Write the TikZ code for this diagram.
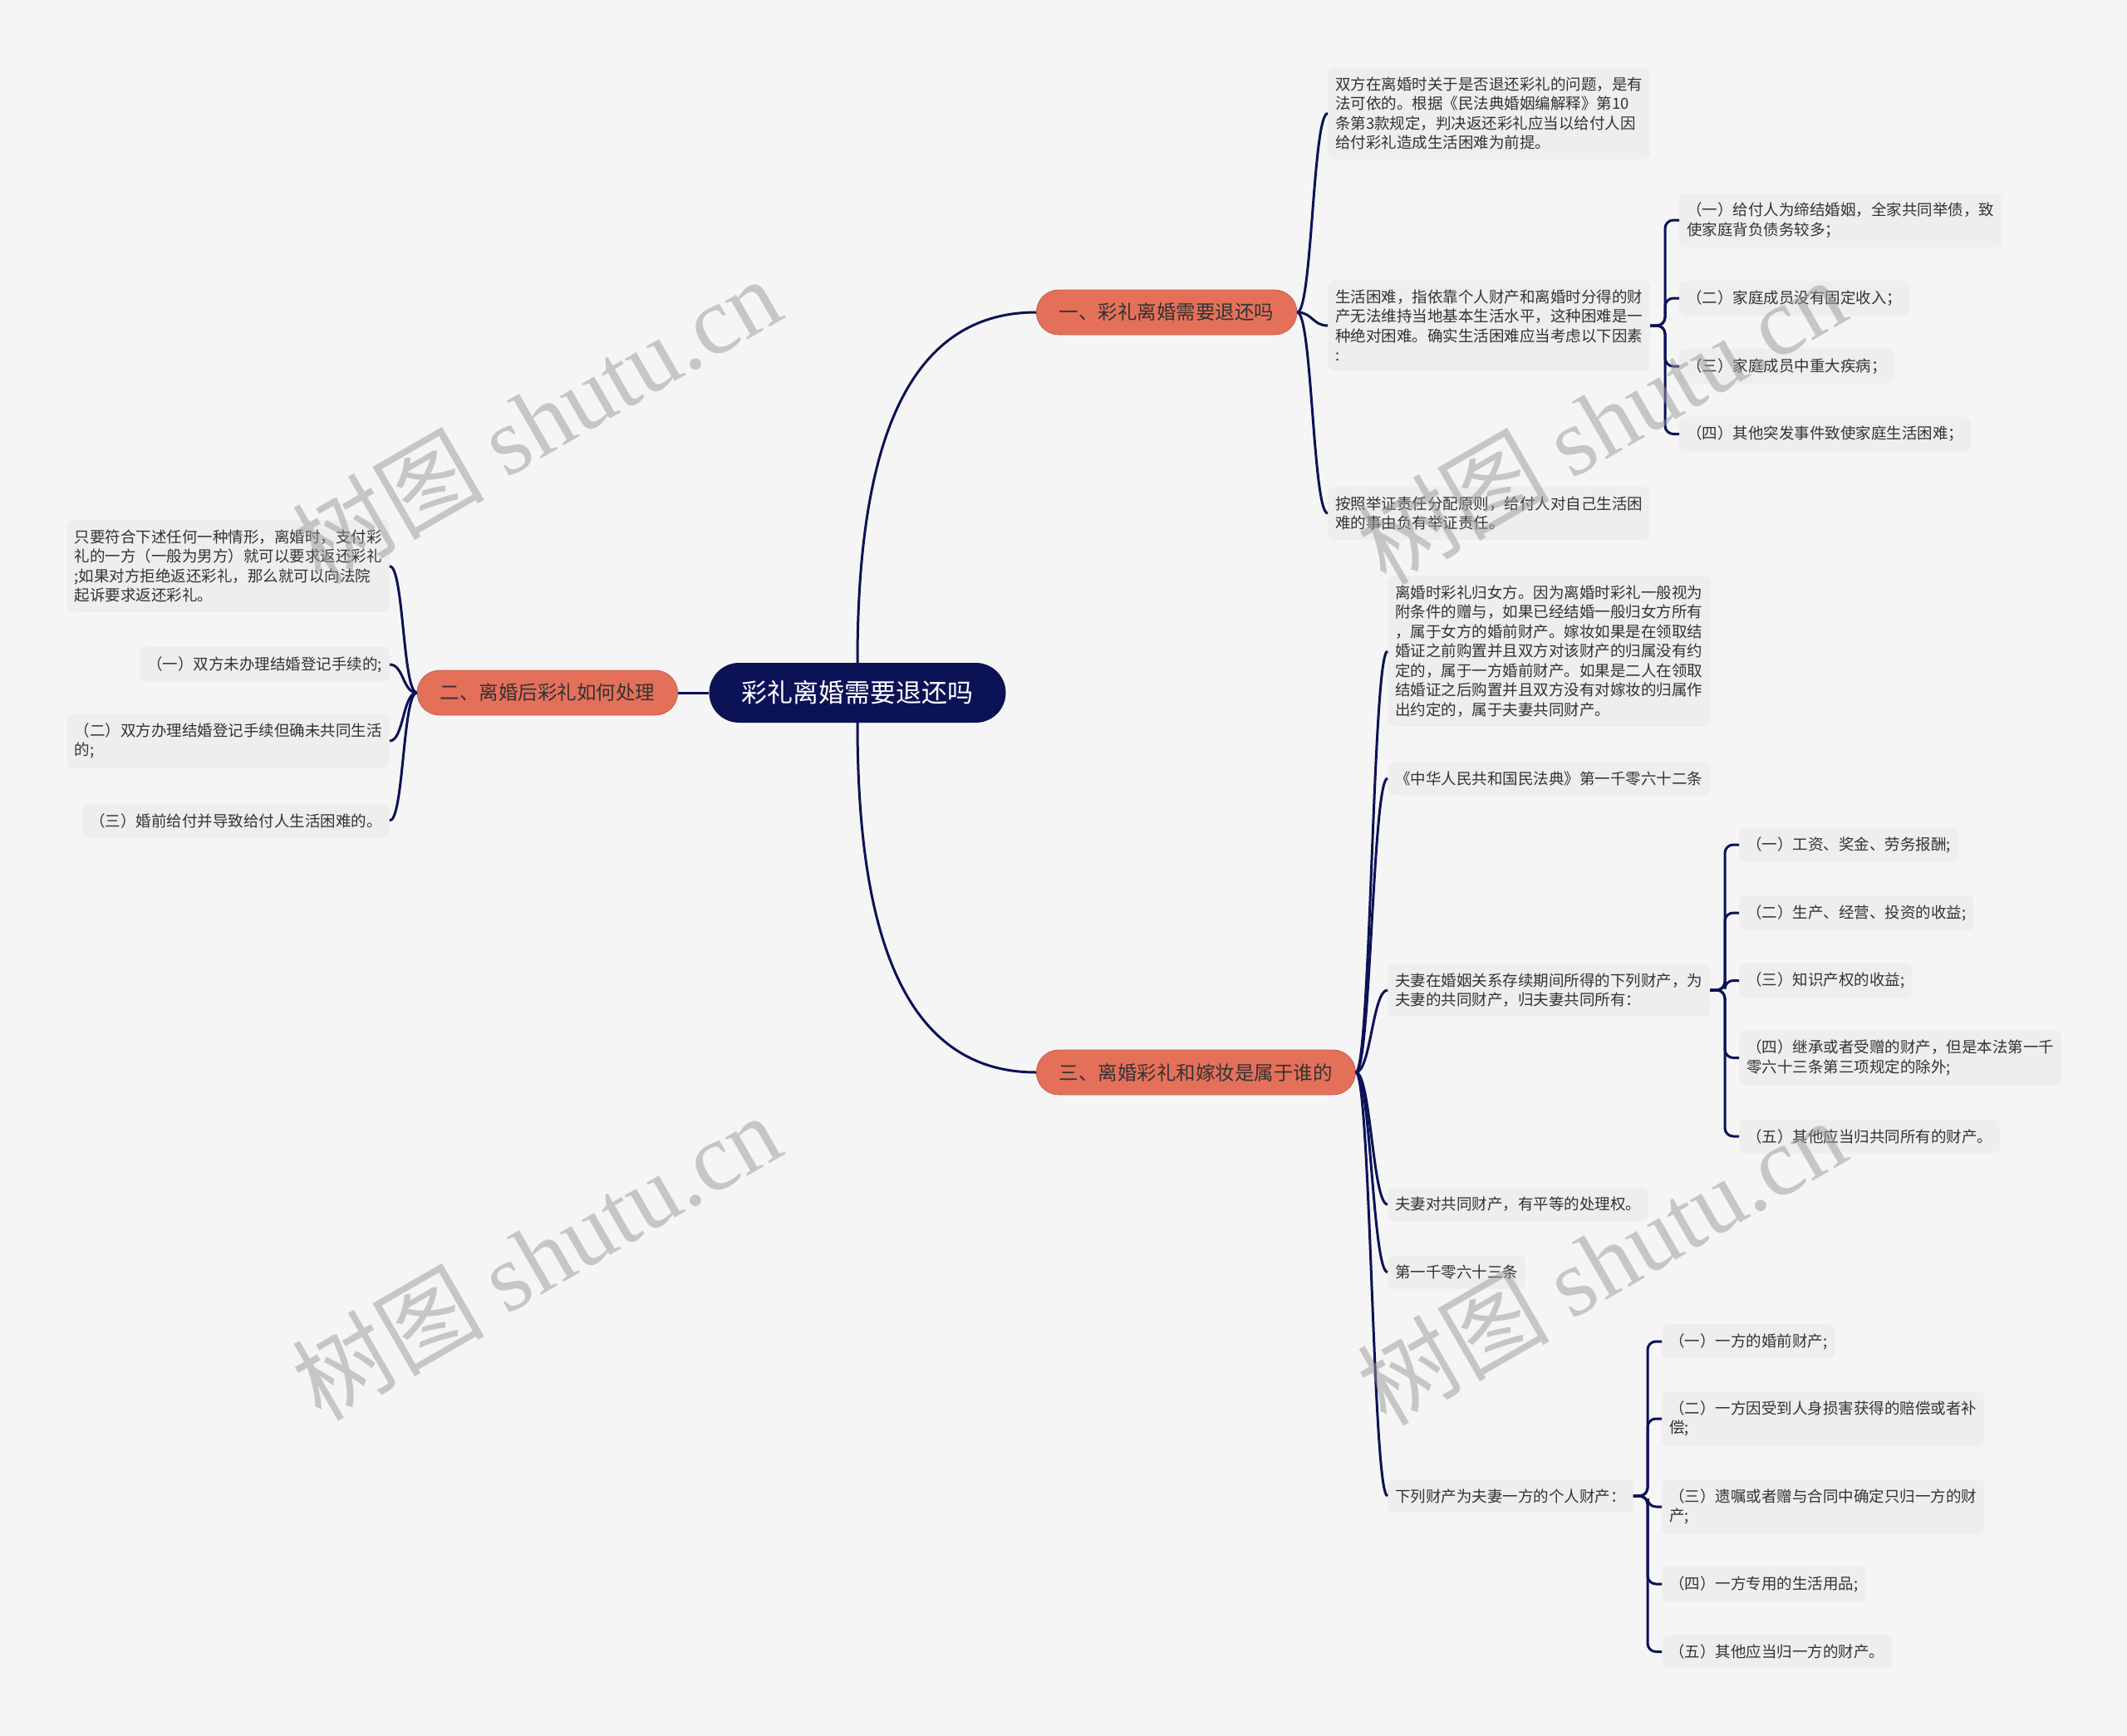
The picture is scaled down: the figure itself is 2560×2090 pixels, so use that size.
\documentclass[tikz,border=0pt]{standalone}
\usepackage{fontspec}
\setmainfont{Noto Sans CJK SC}
\newfontfamily\wmlatin{Liberation Serif}
\usetikzlibrary{calc}
\definecolor{bgc}{HTML}{F5F5F5}
\definecolor{boxc}{HTML}{EEEEEE}
\definecolor{navy}{HTML}{0C1256}
\definecolor{salmon}{HTML}{E4705A}
\definecolor{txt}{HTML}{333333}
\definecolor{wm}{HTML}{999999}
\tikzset{
  link/.style={draw=navy, line width=3pt},
  rootnode/.style={fill=navy, text=white, rounded corners=36pt, minimum height=72pt, inner xsep=39pt, font=\fontsize{31pt}{36pt}\selectfont},
  branch/.style={fill=salmon, draw=salmon!85!black, line width=0.8pt, text=txt, rounded corners=27pt, minimum height=54pt, inner xsep=27.5pt, font=\fontsize{23.5pt}{28pt}\selectfont},
  leaf/.style={fill=boxc, text=txt, rounded corners=8pt, inner xsep=9pt, inner ysep=11.5pt, align=left, font=\fontsize{18.5pt}{23.5pt}\selectfont},
  wmark/.style={text=wm, opacity=0.5, rotate=30, font=\fontsize{116pt}{120pt}\selectfont},
}
\newcommand\rcurve[3]{\draw[link] (#1.east) .. controls ($(#1.east)+(#3,0)$) and ($(#2.west)+(-#3,0)$) .. (#2.west);}
\newcommand\lcurve[3]{\draw[link] (#1.west) .. controls ($(#1.west)+(-#3,0)$) and ($(#2.east)+(#3,0)$) .. (#2.east);}
\newcommand\elbow[2]{\draw[link, rounded corners=10pt] (#1.east) -| ($(#2.west)+(-17,0)$) -- (#2.west);}
\begin{document}
\begin{tikzpicture}[x=1pt, y=-1pt]
\useasboundingbox (0,0) rectangle (2560,2090);
\fill[bgc] (0,0) rectangle (2560,2090);

% root and branches
\node[rootnode] (root) at (1032,834) {彩礼离婚需要退还吗};
\node[branch, anchor=west] (b1) at (1247,376) {一、彩礼离婚需要退还吗};
\node[branch, anchor=east] (b2) at (816,834) {二、离婚后彩礼如何处理};
\node[branch, anchor=west] (b3) at (1247,1291) {三、离婚彩礼和嫁妆是属于谁的};

% branch 1 children
\node[leaf, anchor=west] (c1a) at (1598,136.5) {双方在离婚时关于是否退还彩礼的问题，是有\\法可依的。根据《民法典婚姻编解释》第10\\条第3款规定，判决返还彩礼应当以给付人因\\给付彩礼造成生活困难为前提。};
\node[leaf, anchor=west] (c1b) at (1598,392) {生活困难，指依靠个人财产和离婚时分得的财\\产无法维持当地基本生活水平，这种困难是一\\种绝对困难。确实生活困难应当考虑以下因素\\:};
\node[leaf, anchor=west] (c1c) at (1598,618) {按照举证责任分配原则，给付人对自己生活困\\难的事由负有举证责任。};

\node[leaf, anchor=west] (d1) at (2021,265) {（一）给付人为缔结婚姻，全家共同举债，致\\使家庭背负债务较多；};
\node[leaf, anchor=west] (d2) at (2021,359) {（二）家庭成员没有固定收入；};
\node[leaf, anchor=west] (d3) at (2021,441) {（三）家庭成员中重大疾病；};
\node[leaf, anchor=west] (d4) at (2021,522.5) {（四）其他突发事件致使家庭生活困难；};

% branch 2 children
\node[leaf, anchor=east] (e0) at (469,681.5) {只要符合下述任何一种情形，离婚时，支付彩\\礼的一方（一般为男方）就可以要求返还彩礼\\;如果对方拒绝返还彩礼，那么就可以向法院\\起诉要求返还彩礼。};
\node[leaf, anchor=east] (e1) at (469,800) {（一）双方未办理结婚登记手续的;};
\node[leaf, anchor=east] (e2) at (469,892) {（二）双方办理结婚登记手续但确未共同生活\\的;};
\node[leaf, anchor=east] (e3) at (469,988) {（三）婚前给付并导致给付人生活困难的。};

% branch 3 children
\node[leaf, anchor=west] (f1) at (1670,784) {离婚时彩礼归女方。因为离婚时彩礼一般视为\\附条件的赠与，如果已经结婚一般归女方所有\\，属于女方的婚前财产。嫁妆如果是在领取结\\婚证之前购置并且双方对该财产的归属没有约\\定的，属于一方婚前财产。如果是二人在领取\\结婚证之后购置并且双方没有对嫁妆的归属作\\出约定的，属于夫妻共同财产。};
\node[leaf, anchor=west] (f2) at (1670,937) {《中华人民共和国民法典》第一千零六十二条};
\node[leaf, anchor=west] (f3) at (1670,1192) {夫妻在婚姻关系存续期间所得的下列财产，为\\夫妻的共同财产，归夫妻共同所有：};
\node[leaf, anchor=west] (f4) at (1670,1450) {夫妻对共同财产，有平等的处理权。};
\node[leaf, anchor=west] (f5) at (1670,1531.5) {第一千零六十三条};
\node[leaf, anchor=west] (f6) at (1670,1801) {下列财产为夫妻一方的个人财产：};

\node[leaf, anchor=west] (g1) at (2093,1017) {（一）工资、奖金、劳务报酬;};
\node[leaf, anchor=west] (g2) at (2093,1099) {（二）生产、经营、投资的收益;};
\node[leaf, anchor=west] (g3) at (2093,1180.5) {（三）知识产权的收益;};
\node[leaf, anchor=west] (g4) at (2093,1273.5) {（四）继承或者受赠的财产，但是本法第一千\\零六十三条第三项规定的除外;};
\node[leaf, anchor=west] (g5) at (2093,1368) {（五）其他应当归共同所有的财产。};

\node[leaf, anchor=west] (h1) at (2000,1615) {（一）一方的婚前财产;};
\node[leaf, anchor=west] (h2) at (2000,1708) {（二）一方因受到人身损害获得的赔偿或者补\\偿;};
\node[leaf, anchor=west] (h3) at (2000,1814) {（三）遗嘱或者赠与合同中确定只归一方的财\\产;};
\node[leaf, anchor=west] (h4) at (2000,1907) {（四）一方专用的生活用品;};
\node[leaf, anchor=west] (h5) at (2000,1988.5) {（五）其他应当归一方的财产。};

% connectors
\draw[link] (root.north) .. controls ($(root.north)+(0,-237)$) and ($(b1.west)+(-167,0)$) .. (b1.west);
\draw[link] (root.south) .. controls ($(root.south)+(0,237)$) and ($(b3.west)+(-167,0)$) .. (b3.west);
\draw[link] (root.west) -- (b2.east);

\foreach \c in {c1a,c1b,c1c} {\rcurve{b1}{\c}{18}}
\foreach \c in {e0,e1,e2,e3} {\lcurve{b2}{\c}{17}}
\foreach \c in {f1,f2,f3,f4,f5,f6} {\rcurve{b3}{\c}{18}}
\foreach \c in {d1,d2,d3,d4} {\elbow{c1b}{\c}}
\foreach \c in {g1,g2,g3,g4,g5} {\elbow{f3}{\c}}
\foreach \c in {h1,h2,h3,h4,h5} {\elbow{f6}{\c}}

% watermarks
\node[wmark] (wm1) at (645,505) {树图 {\wmlatin shutu.cn}};
\node[wmark] (wm2) at (1927,506) {树图 {\wmlatin shutu.cn}};
\node[wmark] (wm3) at (645,1512) {树图 {\wmlatin shutu.cn}};
\node[wmark] (wm4) at (1927,1518) {树图 {\wmlatin shutu.cn}};
\end{tikzpicture}
\end{document}
